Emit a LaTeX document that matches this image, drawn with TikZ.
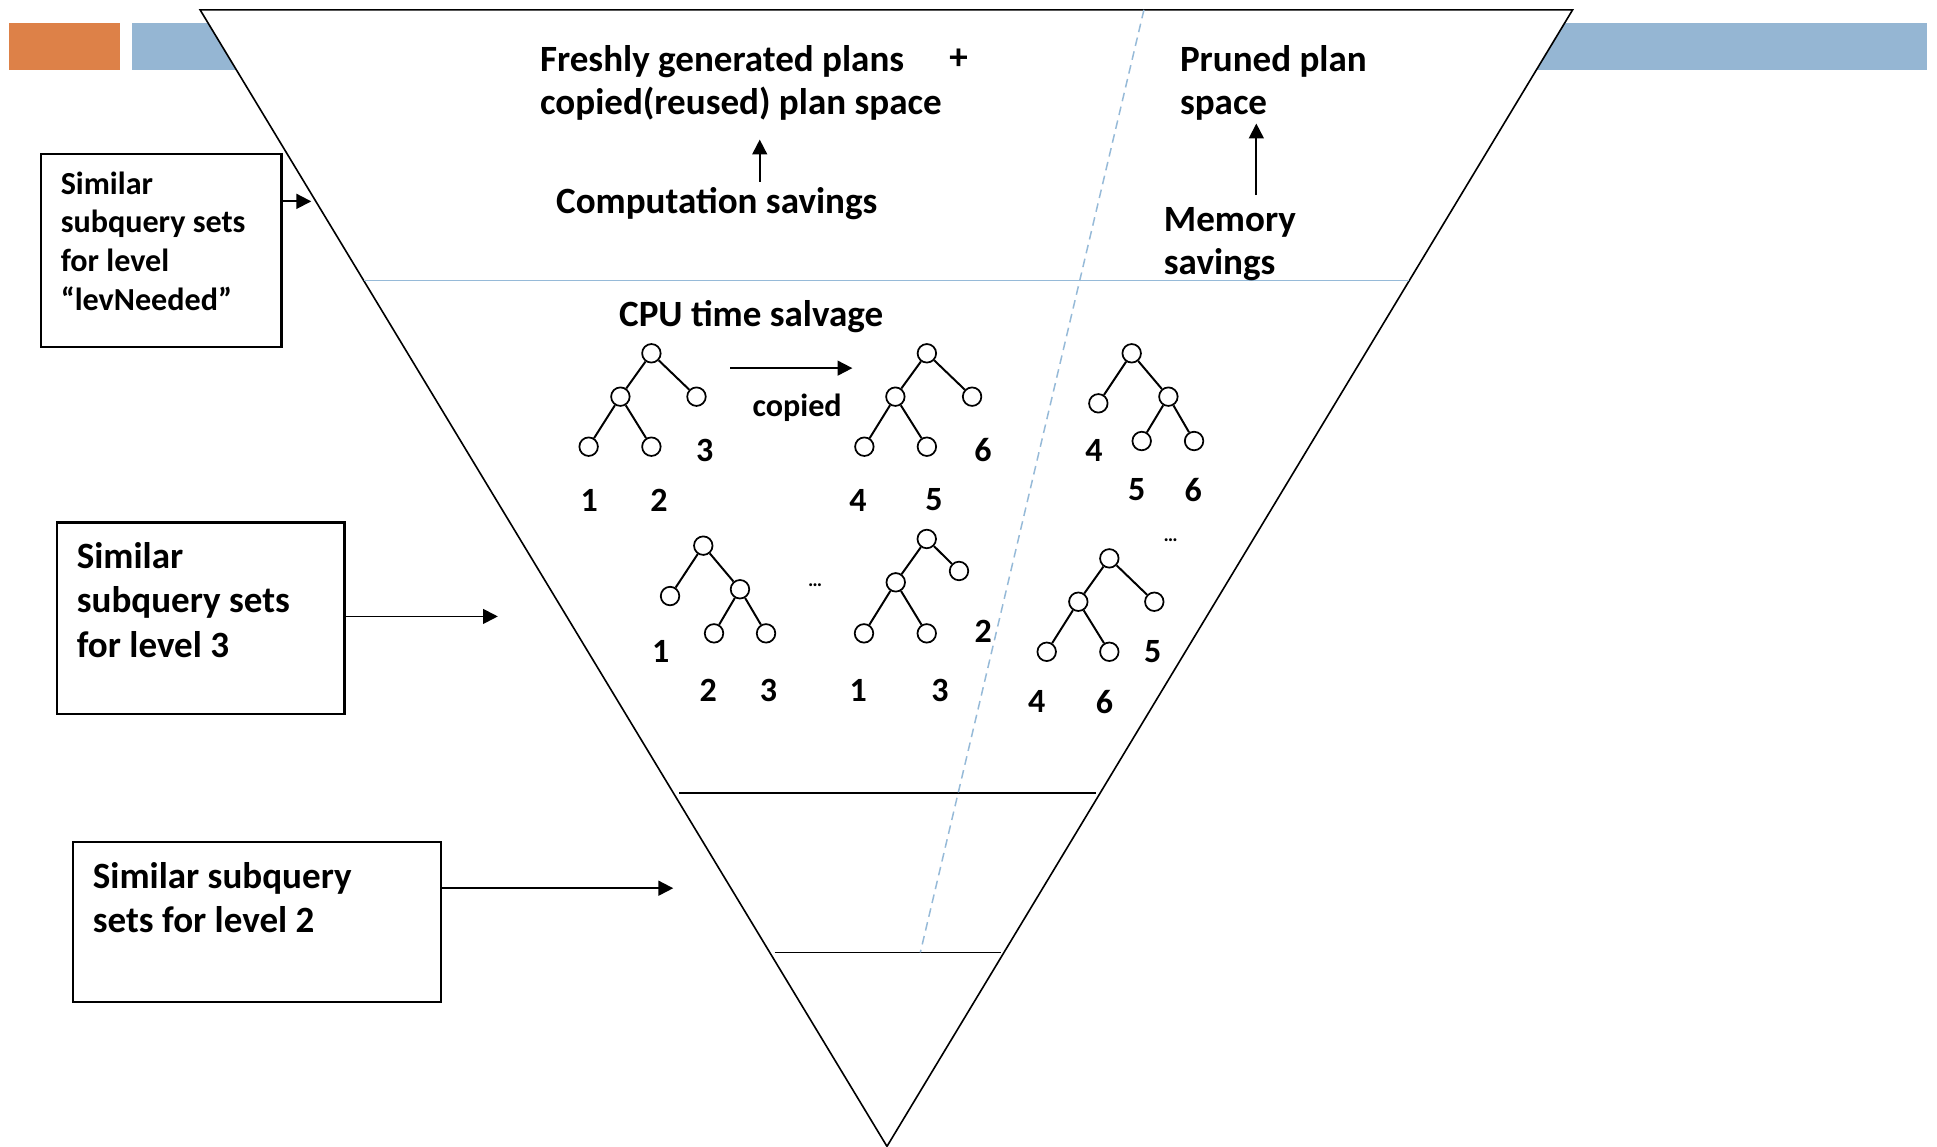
\documentclass[tikz,border=0pt]{standalone}
\usepackage{fontspec}
\setmainfont{Carlito}
\usetikzlibrary{arrows.meta,calc}
\definecolor{barorange}{RGB}{221,129,72}
\definecolor{barblue}{RGB}{149,182,211}
\definecolor{sepblue}{RGB}{150,186,216}
\begin{document}
\begin{tikzpicture}[x=1pt,y=-1pt,
  txt/.style={inner sep=0pt, anchor=base west, align=left},
  bigtxt/.style={txt, font=\bfseries\fontsize{30}{35}\selectfont},
  boxtxt/.style={txt, font=\bfseries\fontsize{30}{36}\selectfont},
  smalltxt/.style={txt, font=\bfseries\fontsize{26}{31.3}\selectfont},
  digit/.style={inner sep=0pt, font=\bfseries\fontsize{27.5}{30}\selectfont},
  dots/.style={inner sep=0pt, font=\bfseries\fontsize{16}{18}\selectfont},
  pt/.style={circle, draw, line width=1.4pt, minimum size=15pt, inner sep=0pt, fill=white},
  branch/.style={line width=1.6pt},
  tip/.style={-{Triangle[length=12pt,width=12pt]}, line width=1.5pt},
  infobox/.style={draw, line width=1.8pt, inner sep=0pt, anchor=north west},
  edge/.style={line width=1.3pt},
  level/.style={line width=1.4pt}
]
\useasboundingbox (0,0) rectangle (1568,928);

% header bars
\fill[barorange] (7,19) rectangle (97,57);
\fill[barblue] (107,19) rectangle (1560,57);

% inverted triangle
\coordinate (tl) at (162,8);
\coordinate (tr) at (1273,8);
\coordinate (apex) at (718,928);
\draw[edge, fill=white] (tl) -- (tr) -- (apex) -- cycle;

% separators
\draw[sepblue, line width=1.2pt] ($(tl)!0.238!(apex)$) -- ($(tr)!0.238!(apex)$);
\draw[level] (550,642) -- (887,642);
\draw[level] (627,771) -- (810,771);
\draw[sepblue, line width=1.2pt, dash pattern=on 7pt off 4.5pt] (926,8) -- (745,771);

% top texts (multi-line nodes sit on the baseline of their last line)
\node[bigtxt] (fresh) at (437,93) {Freshly generated plans\\copied(reused) plan space};
\node[inner sep=0pt, font=\bfseries\fontsize{30}{32}\selectfont] (plus) at (776,48) {+};
\node[bigtxt] (comp) at (450,173) {Computation savings};
\coordinate (compA) at (615,147);
\coordinate (compB) at (615,113);
\draw[tip] (compA) -- (compB);

\node[bigtxt] (pruned) at (955,93) {Pruned plan\\space};
\node[bigtxt] (mem) at (942,222) {Memory\\savings};
\coordinate (memA) at (1017,158);
\coordinate (memB) at (1017,100);
\draw[tip] (memA) -- (memB);

\node[bigtxt] (cpu) at (501,264) {CPU time salvage};
\node[txt, font=\bfseries\fontsize{26}{30}\selectfont] (copied) at (609,337) {copied};
\coordinate (cpA) at (591,298);
\coordinate (cpB) at (690,298);
\draw[tip] (cpA) -- (cpB);

% left boxes
\node[infobox, minimum width=195pt, minimum height=156pt] (box1) at (32,124) {};
\node[smalltxt] (box1t) at (49,251) {Similar\\subquery sets\\for level\\“levNeeded”};
\coordinate (arr1) at (252,163);
\draw[tip] (box1.east |- arr1) -- (arr1);

\node[infobox, minimum width=233pt, minimum height=155pt] (box2) at (45,422) {};
\node[boxtxt] (box2t) at (62,532) {Similar\\subquery sets\\for level 3};
\coordinate (arr2) at (403,499);
\draw[tip] (box2.east |- arr2) -- (arr2);

\node[infobox, minimum width=298pt, minimum height=129pt] (box3) at (58,681) {};
\node[boxtxt] (box3t) at (75,755) {Similar subquery\\sets for level 2};
\coordinate (arr3) at (545,719);
\draw[tip] (box3.east |- arr3) -- (arr3);

% plan tree A
\node[pt] (a0) at (527.3,286) {};
\node[pt] (a1) at (502.2,321.1) {};
\node[pt] (a2) at (563.8,321.1) {};
\node[pt] (a3) at (476.5,361.6) {};
\node[pt] (a4) at (527.3,361.6) {};
\draw[branch] (a0) -- (a1) (a0) -- (a2) (a1) -- (a3) (a1) -- (a4);
\node[digit] (la3) at (570.4,364.3) {3};
\node[digit] (la1) at (477,404.8) {1};
\node[digit] (la2) at (533.4,404.8) {2};

% plan tree B
\node[pt] (b0) at (750.3,286) {};
\node[pt] (b1) at (724.8,321.1) {};
\node[pt] (b2) at (786.9,321.1) {};
\node[pt] (b3) at (699.7,361.6) {};
\node[pt] (b4) at (750.3,361.6) {};
\draw[branch] (b0) -- (b1) (b0) -- (b2) (b1) -- (b3) (b1) -- (b4);
\node[digit] (lb6) at (795.7,364.3) {6};
\node[digit] (lb4) at (694.5,404.8) {4};
\node[digit] (lb5) at (756,404.8) {5};

% plan tree C
\node[pt] (c0) at (916.1,286) {};
\node[pt] (c1) at (889.1,326.5) {};
\node[pt] (c2) at (945.8,321.1) {};
\node[pt] (c3) at (924.2,357) {};
\node[pt] (c4) at (966.6,357) {};
\draw[branch] (c0) -- (c1) (c0) -- (c2) (c2) -- (c3) (c2) -- (c4);
\node[digit] (lc4) at (885.6,364.3) {4};
\node[digit] (lc5) at (920.2,396.7) {5};
\node[digit] (lc6) at (966,396.7) {6};
\node[dots] (dotsC) at (947.7,437) {…};

% plan tree D
\node[pt] (d0) at (898,452) {};
\node[pt] (d1) at (872.9,487.1) {};
\node[pt] (d2) at (934.4,487.1) {};
\node[pt] (d3) at (847.3,527.6) {};
\node[pt] (d4) at (898,527.6) {};
\draw[branch] (d0) -- (d1) (d0) -- (d2) (d1) -- (d3) (d1) -- (d4);
\node[digit] (ld5) at (933.1,527.6) {5};
\node[digit] (ld4) at (839.2,568) {4};
\node[digit] (ld6) at (894,568) {6};

% plan tree E
\node[pt] (e0) at (569.3,441.7) {};
\node[pt] (e1) at (542.4,482.5) {};
\node[pt] (e2) at (599,477) {};
\node[pt] (e3) at (578,512.7) {};
\node[pt] (e4) at (620.1,512.7) {};
\draw[branch] (e0) -- (e1) (e0) -- (e2) (e2) -- (e3) (e2) -- (e4);
\node[digit] (le1) at (534.8,527.6) {1};
\node[digit] (le2) at (573.4,558.6) {2};
\node[digit] (le3) at (622,558.6) {3};
\node[dots] (dotsE) at (659.8,473.6) {…};

% plan tree F
\node[pt] (f0) at (750.2,436.3) {};
\node[pt] (f1) at (725.1,471.4) {};
\node[pt] (f2) at (776.3,462.2) {};
\node[pt] (f3) at (699.4,512.7) {};
\node[pt] (f4) at (750.2,512.7) {};
\draw[branch] (f0) -- (f1) (f0) -- (f2) (f1) -- (f3) (f1) -- (f4);
\node[digit] (lf2) at (796,511.4) {2};
\node[digit] (lf1) at (694.8,558.6) {1};
\node[digit] (lf3) at (761,558.6) {3};
\end{tikzpicture}
\end{document}
